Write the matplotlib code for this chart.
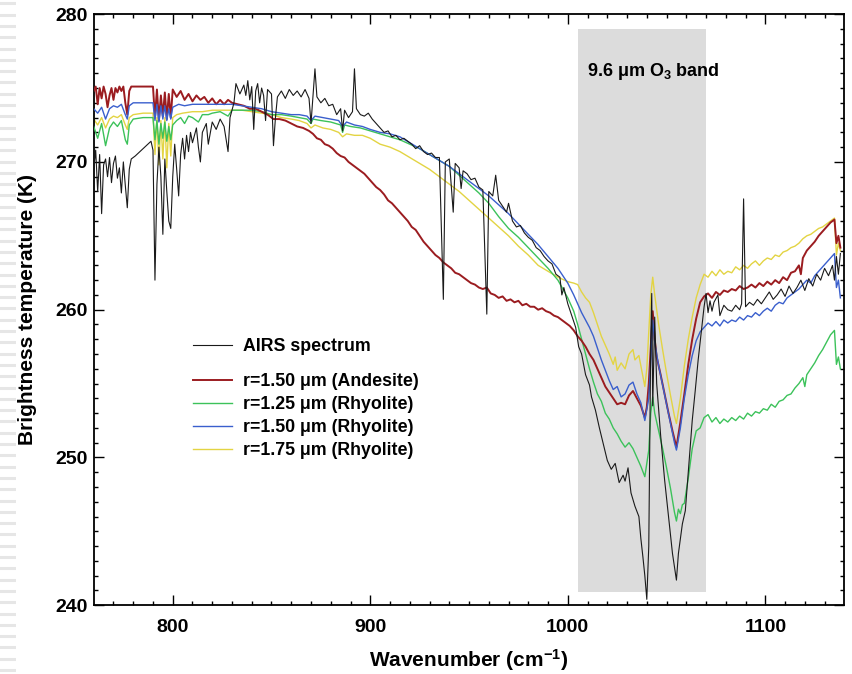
import numpy as np
import matplotlib
matplotlib.use("Agg")
import matplotlib.pyplot as plt

plt.rcParams['font.family'] = ['Liberation Sans', 'DejaVu Sans']
plt.rcParams['font.weight'] = 'bold'
plt.rcParams['mathtext.fontset'] = 'custom'
plt.rcParams['mathtext.rm'] = 'Liberation Sans:bold'
plt.rcParams['mathtext.default'] = 'rm'

# ---- data (wavenumber cm-1, brightness temperature K) ----
airs = [
    (760, 269.5), (761, 270.8), (762, 268.0), (763, 270.5), (764, 266.5), (765, 269.8),
    (766, 270.2), (767, 269.0), (768, 270.3), (769, 268.6), (770, 269.9), (771, 270.4),
    (772, 268.9), (773, 269.6), (774, 267.9), (775, 270.0), (776, 268.4), (777, 266.9),
    (778, 269.5), (779, 270.2), (781, 270.4), (785, 270.9), (789, 271.4), (790, 270.8),
    (791, 262.0), (792, 268.5), (793, 271.0), (794, 269.0), (795, 265.1), (796, 270.2),
    (797, 268.0), (798, 266.0), (799, 265.5), (800, 269.0), (801, 271.2), (802, 269.5),
    (803, 267.7), (804, 270.5), (805, 271.6), (806, 270.2), (807, 271.8), (808, 270.7),
    (809, 272.0), (810, 271.3), (812, 272.3), (813, 271.0), (814, 270.0), (815, 272.0),
    (817, 272.6), (818, 271.2), (820, 272.7), (822, 272.2), (824, 272.9), (826, 272.4),
    (828, 270.7), (829, 273.0), (831, 274.0), (832, 275.3), (834, 274.6), (836, 275.2),
    (837, 274.5), (838, 275.5), (839, 274.2), (840, 275.1), (841, 272.2), (842, 274.8),
    (843, 275.3), (844, 274.0), (845, 275.0), (846, 274.5), (847, 272.8), (848, 274.9),
    (850, 274.6), (851, 271.1), (852, 273.0), (853, 274.4), (855, 274.8), (857, 274.3),
    (859, 274.9), (861, 274.5), (863, 274.8), (865, 274.4), (867, 274.9), (869, 274.3),
    (870, 272.6), (871, 274.5), (872, 276.3), (873, 274.4), (875, 274.0), (877, 274.3),
    (879, 273.8), (881, 273.9), (883, 273.2), (885, 273.6), (886, 272.1), (887, 273.5),
    (889, 273.0), (891, 273.4), (892, 276.3), (893, 273.6), (895, 273.2), (897, 273.1),
    (899, 273.3), (901, 272.9), (903, 272.6), (905, 272.3), (907, 272.0), (909, 272.1),
    (911, 271.7), (913, 271.8), (915, 271.5), (917, 271.6), (919, 271.4), (921, 271.2),
    (923, 270.9), (925, 271.1), (927, 270.7), (929, 270.5), (931, 270.6), (933, 270.3),
    (935, 270.3), (937, 260.7), (938, 270.0), (940, 270.2), (942, 266.6), (943, 269.9),
    (945, 269.6), (946, 268.2), (947, 269.4), (949, 269.2), (951, 268.8), (953, 268.9),
    (955, 268.3), (957, 268.1), (959, 259.7), (960, 268.0), (962, 267.7), (963.5, 269.1),
    (965, 267.4), (967, 267.0), (969, 266.6), (970, 267.2), (972, 266.0), (974, 265.6),
    (976, 265.7), (978, 265.2), (980, 264.9), (982, 264.7), (984, 264.2), (986, 264.0),
    (988, 263.6), (990, 263.3), (992, 263.1), (994, 262.4), (996, 262.2), (997, 261.0),
    (998, 261.5), (1000, 260.4), (1002, 259.6), (1004, 258.8), (1005.5, 257.5), (1007, 257.0),
    (1009, 255.6), (1011, 254.9), (1012, 254.1), (1014, 253.2), (1016, 252.0), (1018, 250.9),
    (1020, 249.8), (1022, 249.2), (1024, 249.6), (1026, 248.3), (1028, 248.8), (1029, 248.4),
    (1030.5, 249.3), (1032, 247.6), (1034, 246.7), (1036, 246.0), (1037, 244.5), (1038, 243.3),
    (1039, 242.0), (1040, 240.4), (1041, 244.0), (1042, 258.0), (1042.5, 261.1), (1043, 253.5),
    (1044, 259.5), (1045, 255.0), (1047, 251.5), (1049, 248.5), (1051, 246.0), (1053, 243.5),
    (1055, 241.7), (1056, 243.5), (1058, 245.5), (1059.5, 246.4), (1061, 249.0), (1063, 252.5),
    (1064.5, 254.5), (1066, 256.6), (1068, 259.0), (1069, 260.2), (1070, 261.1), (1071, 259.8),
    (1072, 260.6), (1073, 259.9), (1074, 260.5), (1076, 261.0), (1077, 259.6), (1079, 260.3),
    (1081, 260.0), (1083, 259.9), (1085, 260.3), (1087, 260.0), (1088, 260.4), (1089, 267.5),
    (1090, 260.2), (1092, 260.5), (1094, 260.3), (1096, 260.7), (1098, 260.4), (1100, 260.8),
    (1102, 261.2), (1104, 260.7), (1106, 261.0), (1108, 261.4), (1110, 260.9), (1112, 261.6),
    (1114, 261.1), (1116, 261.5), (1118, 262.0), (1120, 261.3), (1122, 262.1), (1124, 261.6),
    (1126, 262.4), (1128, 262.0), (1130, 262.8), (1132, 262.3), (1134, 263.0), (1135, 262.0),
    (1136, 263.6), (1137, 262.4), (1138, 263.8),
]

andesite_150 = [
    (760, 274.8), (761, 275.1), (762, 273.9), (763, 275.0), (764, 274.3), (765, 275.1),
    (766, 274.6), (767, 273.7), (768, 274.5), (769, 275.0), (770, 274.2), (771, 275.0),
    (772, 274.7), (773, 275.1), (774, 274.8), (775, 275.1), (776, 274.0), (777, 273.2),
    (778, 274.8), (779, 275.1), (785, 275.1), (790, 275.1), (791, 273.0), (792, 274.9),
    (793, 272.8), (794, 274.5), (795, 273.1), (796, 274.7), (797, 272.9), (798, 274.6),
    (799, 273.0), (800, 274.9), (802, 274.4), (804, 274.8), (806, 274.2), (808, 274.6),
    (810, 274.1), (812, 274.5), (814, 274.2), (816, 274.4), (818, 274.0), (820, 274.3),
    (822, 273.9), (824, 274.2), (826, 273.9), (828, 274.2), (830, 274.0), (833, 273.9),
    (836, 273.8), (839, 273.6), (842, 273.6), (845, 273.4), (848, 273.2), (851, 272.9),
    (854, 272.9), (857, 272.8), (860, 272.6), (863, 272.4), (866, 272.3), (869, 272.1),
    (871, 271.9), (873, 271.6), (875, 271.5), (877, 271.2), (879, 271.1), (881, 270.9),
    (883, 270.6), (885, 270.4), (887, 270.3), (889, 270.0), (891, 269.8), (893, 269.6),
    (895, 269.4), (897, 269.2), (899, 268.9), (901, 268.6), (903, 268.3), (905, 268.1),
    (907, 267.8), (909, 267.4), (911, 267.2), (913, 266.9), (915, 266.6), (917, 266.3),
    (919, 266.0), (921, 265.6), (923, 265.4), (925, 265.0), (927, 264.6), (929, 264.3),
    (931, 264.0), (933, 263.7), (935, 263.5), (937, 263.2), (939, 263.0), (941, 262.8),
    (943, 262.5), (945, 262.4), (947, 262.2), (949, 262.0), (951, 261.8), (953, 261.7),
    (955, 261.5), (957, 261.4), (959, 261.5), (961, 261.1), (963, 261.0), (965, 260.8),
    (967, 260.9), (969, 260.6), (971, 260.7), (973, 260.5), (975, 260.6), (977, 260.3),
    (979, 260.4), (981, 260.2), (983, 260.2), (985, 260.0), (987, 260.1), (989, 259.9),
    (991, 259.8), (993, 259.6), (995, 259.5), (997, 259.3), (999, 259.1), (1001, 258.9),
    (1003, 258.6), (1005, 258.2), (1007, 257.9), (1009, 257.5), (1011, 257.0), (1013, 256.6),
    (1015, 256.0), (1017, 255.4), (1019, 254.8), (1021, 254.4), (1023, 254.0), (1025, 253.6),
    (1027, 253.7), (1029, 253.6), (1031, 254.2), (1033, 254.5), (1035, 254.0), (1037, 253.5),
    (1039, 252.7), (1040, 253.4), (1041, 255.0), (1042, 257.5), (1043, 259.9), (1044, 258.0),
    (1045, 256.8), (1047, 255.6), (1049, 254.3), (1051, 253.0), (1053, 251.8), (1055, 250.7),
    (1057, 252.4), (1059, 254.3), (1061, 256.3), (1063, 258.0), (1065, 259.4), (1067, 260.5),
    (1069, 260.9), (1071, 261.1), (1073, 260.8), (1075, 261.2), (1077, 261.0), (1079, 261.3),
    (1081, 261.2), (1083, 261.4), (1085, 261.3), (1087, 261.6), (1089, 261.4), (1091, 261.5),
    (1093, 261.7), (1095, 261.5), (1097, 261.8), (1099, 261.6), (1101, 261.9), (1103, 261.7),
    (1105, 262.0), (1107, 261.8), (1109, 262.2), (1111, 262.0), (1113, 262.5), (1115, 262.6),
    (1117, 263.0), (1118, 262.4), (1119, 263.5), (1121, 264.0), (1123, 264.3), (1125, 264.6),
    (1127, 265.0), (1129, 265.3), (1131, 265.6), (1133, 265.9), (1135, 266.1), (1136, 264.5),
    (1137, 265.0), (1138, 264.2),
]

rhyolite_125 = [
    (760, 272.4), (762, 271.6), (764, 272.6), (766, 271.1), (768, 272.3), (770, 272.7),
    (772, 272.4), (774, 272.8), (776, 271.5), (777, 271.2), (778, 272.5), (780, 272.9),
    (785, 273.0), (790, 273.0), (791, 271.5), (792, 272.8), (793, 271.2), (794, 272.6),
    (795, 271.6), (796, 272.7), (797, 271.4), (798, 272.4), (799, 271.5), (800, 272.5),
    (802, 272.8), (804, 273.0), (806, 272.6), (808, 273.1), (810, 273.0), (813, 272.7),
    (815, 273.2), (818, 273.2), (820, 273.3), (824, 273.4), (828, 273.1), (830, 273.5),
    (835, 273.5), (840, 273.5), (845, 273.4), (850, 273.2), (855, 273.2), (860, 273.1),
    (864, 273.0), (868, 272.9), (870, 272.6), (871, 272.9), (875, 272.8), (880, 272.7),
    (885, 272.5), (886, 272.0), (887, 272.5), (890, 272.4), (895, 272.3), (900, 272.1),
    (905, 271.9), (910, 271.7), (915, 271.5), (920, 271.2), (925, 270.9), (930, 270.5),
    (935, 270.1), (940, 269.7), (945, 269.1), (950, 268.5), (955, 267.9), (960, 267.2),
    (965, 266.3), (970, 265.5), (975, 264.9), (980, 264.2), (985, 263.5), (990, 262.8),
    (995, 262.0), (1000, 260.8), (1003, 259.9), (1005, 259.0), (1007, 258.0), (1009, 257.0),
    (1011, 256.0), (1013, 255.1), (1015, 254.3), (1017, 253.8), (1019, 253.0), (1021, 252.6),
    (1023, 252.0), (1025, 251.6), (1027, 251.1), (1029, 250.7), (1031, 251.0), (1033, 250.6),
    (1035, 250.0), (1037, 249.4), (1039, 248.7), (1041, 250.5), (1042, 253.0), (1043, 254.1),
    (1044, 253.0), (1046, 251.8), (1048, 250.6), (1050, 249.3), (1052, 247.9), (1054, 246.3),
    (1055, 245.7), (1056, 246.5), (1057, 246.2), (1058, 246.8), (1059, 246.9), (1061, 248.6),
    (1063, 250.6), (1065, 251.8), (1067, 252.0), (1069, 252.7), (1071, 252.9), (1073, 252.4),
    (1075, 252.7), (1077, 252.3), (1079, 252.6), (1081, 252.4), (1083, 252.7), (1085, 252.5),
    (1087, 252.8), (1089, 252.6), (1091, 253.0), (1093, 252.8), (1095, 253.1), (1097, 253.0),
    (1099, 253.3), (1101, 253.2), (1103, 253.6), (1105, 253.4), (1107, 253.8), (1109, 253.9),
    (1111, 254.2), (1113, 254.3), (1115, 254.7), (1117, 255.0), (1119, 255.4), (1120, 254.8),
    (1121, 255.6), (1123, 256.0), (1125, 256.4), (1127, 256.9), (1129, 257.3), (1131, 257.8),
    (1133, 258.3), (1135, 258.6), (1136, 256.3), (1137, 256.8), (1138, 256.0),
]

rhyolite_150 = [
    (760, 273.6), (762, 273.3), (764, 273.7), (766, 272.9), (768, 273.6), (770, 273.8),
    (772, 273.7), (774, 273.9), (776, 273.2), (777, 272.9), (778, 273.8), (780, 274.0),
    (785, 274.0), (790, 274.0), (791, 272.8), (792, 273.9), (793, 272.7), (794, 273.8),
    (795, 272.9), (796, 273.8), (797, 272.8), (798, 273.6), (799, 272.9), (800, 273.7),
    (803, 273.9), (806, 273.8), (810, 273.9), (815, 273.9), (820, 273.9), (825, 273.9),
    (830, 273.9), (835, 273.8), (840, 273.7), (845, 273.6), (850, 273.4), (855, 273.3),
    (860, 273.2), (864, 273.2), (868, 273.1), (870, 272.8), (872, 273.1), (876, 273.0),
    (880, 272.9), (884, 272.8), (886, 272.4), (888, 272.7), (892, 272.5), (896, 272.4),
    (900, 272.2), (905, 272.0), (910, 271.9), (915, 271.7), (920, 271.3), (925, 270.9),
    (930, 270.5), (935, 270.1), (940, 269.7), (945, 269.2), (950, 268.7), (955, 268.2),
    (960, 267.7), (965, 267.1), (970, 266.5), (975, 265.8), (980, 265.1), (985, 264.4),
    (990, 263.6), (995, 262.8), (1000, 261.8), (1003, 261.0), (1005, 260.4), (1007, 259.8),
    (1009, 259.3), (1011, 258.8), (1013, 258.2), (1015, 257.4), (1017, 256.6), (1019, 255.9),
    (1021, 255.2), (1023, 254.6), (1025, 254.8), (1027, 254.1), (1029, 254.3), (1031, 254.9),
    (1033, 255.1), (1035, 254.3), (1037, 253.7), (1039, 252.5), (1041, 254.0), (1042, 256.5),
    (1043, 259.3), (1044, 257.8), (1046, 256.2), (1048, 254.9), (1050, 253.6), (1052, 252.3),
    (1054, 251.0), (1055, 250.5), (1057, 252.0), (1059, 254.0), (1061, 255.6), (1063, 256.9),
    (1065, 257.9), (1067, 258.5), (1069, 258.8), (1071, 259.1), (1073, 258.9), (1075, 259.2),
    (1077, 258.9), (1079, 259.3), (1081, 259.1), (1083, 259.3), (1085, 259.2), (1087, 259.5),
    (1089, 259.3), (1091, 259.6), (1093, 259.5), (1095, 259.8), (1097, 259.6), (1099, 259.9),
    (1101, 260.1), (1103, 259.9), (1105, 260.3), (1107, 260.5), (1109, 260.4), (1111, 260.8),
    (1113, 261.0), (1115, 261.2), (1117, 261.4), (1119, 261.7), (1121, 262.0), (1123, 261.8),
    (1125, 262.3), (1127, 262.6), (1129, 262.9), (1131, 263.2), (1133, 263.5), (1135, 263.8),
    (1136, 261.5), (1137, 262.0), (1138, 260.8),
]

rhyolite_175 = [
    (760, 272.9), (762, 272.5), (764, 273.0), (766, 272.3), (768, 272.9), (770, 273.1),
    (772, 273.0), (774, 273.2), (776, 272.5), (777, 272.2), (778, 273.0), (780, 273.2),
    (785, 273.3), (790, 273.3), (791, 270.5), (792, 273.0), (793, 269.8), (794, 272.8),
    (795, 270.2), (796, 273.0), (797, 269.6), (798, 272.6), (799, 270.4), (800, 273.0),
    (802, 273.2), (805, 273.3), (810, 273.4), (815, 273.4), (820, 273.5), (825, 273.5),
    (830, 273.5), (835, 273.5), (840, 273.4), (845, 273.3), (850, 273.2), (855, 273.0),
    (860, 272.9), (864, 272.8), (868, 272.6), (870, 272.3), (872, 272.5), (876, 272.3),
    (880, 272.2), (884, 272.0), (886, 271.7), (888, 271.9), (892, 271.8), (896, 271.8),
    (900, 271.6), (905, 271.2), (910, 271.0), (915, 270.7), (920, 270.3), (925, 269.9),
    (930, 269.5), (935, 269.0), (940, 268.5), (945, 268.0), (950, 267.4), (955, 266.8),
    (960, 266.2), (965, 265.6), (970, 265.0), (975, 264.3), (980, 263.7), (985, 263.0),
    (990, 262.6), (995, 262.2), (1000, 261.9), (1003, 261.8), (1005, 261.7), (1007, 261.2),
    (1009, 260.8), (1011, 260.5), (1013, 259.8), (1015, 259.0), (1017, 258.2), (1019, 257.6),
    (1021, 257.0), (1023, 256.3), (1024, 256.8), (1025, 255.9), (1027, 256.4), (1029, 256.0),
    (1031, 257.0), (1033, 257.3), (1034, 256.6), (1036, 256.9), (1038, 255.5), (1039, 254.8),
    (1040, 256.0), (1041, 258.5), (1042, 261.0), (1043, 262.2), (1044, 261.0), (1046, 259.0),
    (1048, 257.3), (1050, 255.7), (1052, 254.2), (1054, 252.8), (1055, 252.3), (1057, 254.0),
    (1059, 256.2), (1061, 258.0), (1063, 259.5), (1065, 260.8), (1067, 261.7), (1069, 262.4),
    (1071, 262.2), (1073, 262.6), (1075, 262.3), (1077, 262.7), (1079, 262.4), (1081, 262.6),
    (1083, 262.5), (1085, 262.9), (1087, 262.7), (1089, 263.0), (1091, 262.8), (1093, 263.1),
    (1095, 263.3), (1097, 263.0), (1099, 263.3), (1101, 263.5), (1103, 263.4), (1105, 263.7),
    (1107, 263.6), (1109, 263.9), (1111, 264.0), (1113, 264.2), (1115, 264.3), (1117, 264.5),
    (1119, 264.8), (1121, 265.0), (1123, 265.1), (1125, 265.3), (1127, 265.5), (1129, 265.6),
    (1131, 265.8), (1133, 266.0), (1135, 266.2), (1136, 263.7), (1137, 264.5), (1138, 264.0),
]

# ozone band shading
band_wn = [1005, 1070]
band_bt = (240.9, 279.0)

fig = plt.figure(figsize=(8.52, 6.74), dpi=100)

# faint striped strip at the left edge of the page
strip = fig.add_axes([0, 0, 0.019, 1])
strip.set_xlim(0, 1)
strip.set_ylim(0, 674)
for yy in np.arange(4, 674, 11.3):
    strip.axhline(yy, color='#e6e6e6', lw=2.2)
strip.axis('off')

ax = fig.add_axes([0.110, 0.102, 0.881, 0.877])

ax.fill_between(band_wn, band_bt[0], band_bt[1], color='#dcdcdc', lw=0, zorder=0)

def xy(series):
    a = np.array(series)
    return a[:, 0], a[:, 1]

w, t = xy(airs)
l_airs, = ax.plot(w, t, color='#1a1a1a', lw=0.8, zorder=6)
w, t = xy(andesite_150)
l_and, = ax.plot(w, t, color='#9b1c20', lw=1.4, zorder=4)
w, t = xy(rhyolite_125)
l_r125, = ax.plot(w, t, color='#3cc25a', lw=1.0, zorder=3)
w, t = xy(rhyolite_150)
l_r150, = ax.plot(w, t, color='#3a5fcd', lw=1.0, zorder=5)
w, t = xy(rhyolite_175)
l_r175, = ax.plot(w, t, color='#e3d443', lw=1.0, zorder=2)

ax.set_xlim(760, 1140)
ax.set_ylim(240, 280)
ax.set_xticks([800, 900, 1000, 1100])
ax.set_xticks(np.arange(770, 1140, 10), minor=True)
ax.set_yticks([240, 250, 260, 270, 280])
ax.set_yticks(np.arange(240, 281, 1), minor=True)
ax.tick_params(which='both', direction='in', top=True, right=True, width=1.0,
               labelsize=14)
ax.tick_params(axis='x', pad=10)
ax.tick_params(axis='y', pad=4.5)
ax.tick_params(which='major', length=7.5)
ax.tick_params(which='minor', length=3.2)
for s in ax.spines.values():
    s.set_linewidth(1.3)

ax.set_xlabel('Wavenumber (cm$^{-1}$)', fontsize=15, fontweight='bold', va='center')
ax.xaxis.set_label_coords(0.5, -0.093)
ax.set_ylabel('Brightness temperature (K)', fontsize=15, fontweight='bold', va='center')
ax.yaxis.set_label_coords(-0.0887, 0.5)

ax.text(1009.5, 276.1, '9.6 μm O$_3$ band', fontsize=13, fontweight='bold',
        va='center', ha='left', zorder=7)

leg1 = ax.legend([l_airs], ['AIRS spectrum'], loc='center left',
                 bbox_to_anchor=(0.1227, 0.438), frameon=False, fontsize=12.75,
                 handlelength=2.2, handletextpad=0.62, borderaxespad=0)
ax.add_artist(leg1)
ax.legend([l_and, l_r125, l_r150, l_r175],
          ['r=1.50 μm (Andesite)', 'r=1.25 μm (Rhyolite)',
           'r=1.50 μm (Rhyolite)', 'r=1.75 μm (Rhyolite)'],
          loc='center left', bbox_to_anchor=(0.1227, 0.320), frameon=False,
          fontsize=12.75, handlelength=2.2, handletextpad=0.62, labelspacing=0.35,
          borderaxespad=0)

fig.savefig('out.png', dpi=100)
